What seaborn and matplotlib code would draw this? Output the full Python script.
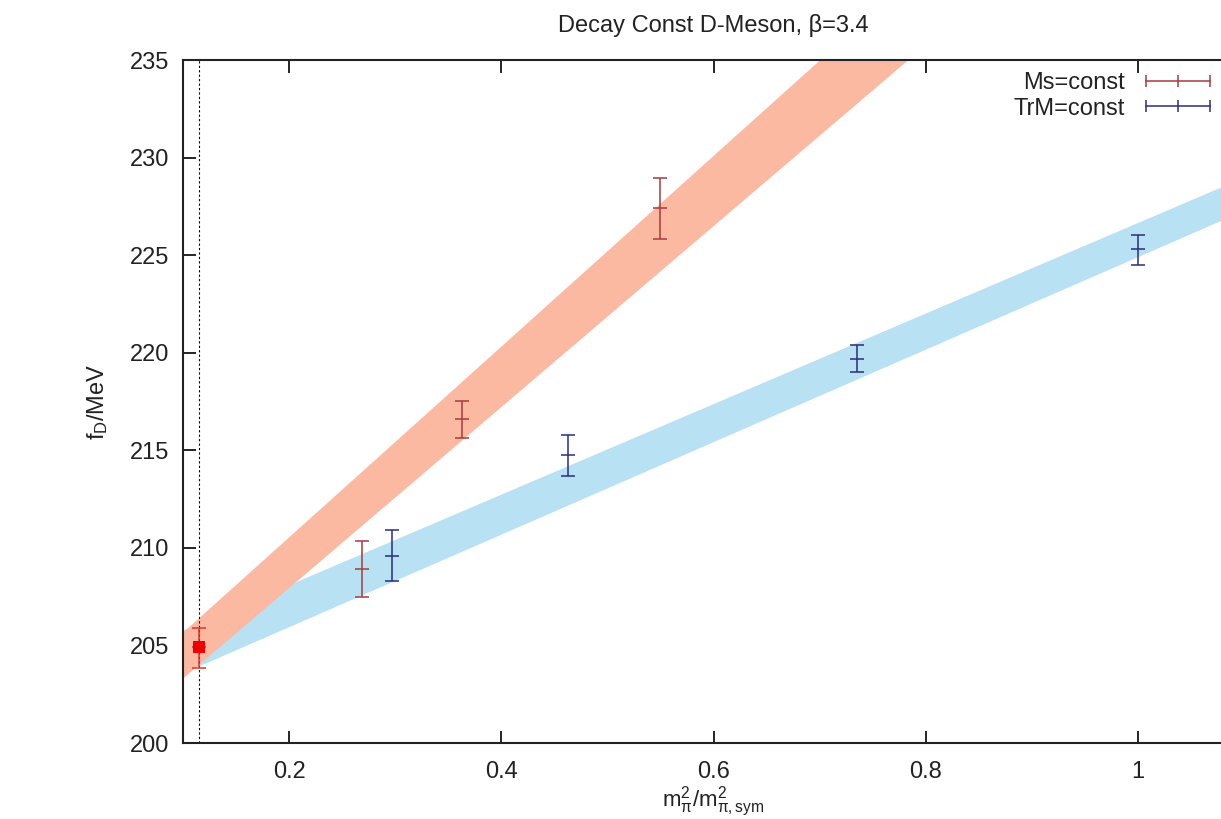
import matplotlib
matplotlib.use("Agg")
import matplotlib.pyplot as plt
import seaborn as sns
import pandas as pd
from matplotlib.lines import Line2D

# ---- data ----
ms_x = [0.269, 0.363, 0.550]
ms_y = [208.9, 216.6, 227.4]
ms_lo = [207.5, 215.65, 225.85]
ms_hi = [210.35, 217.55, 228.95]

tr_x = [0.297, 0.463, 0.735, 1.000]
tr_y = [209.6, 214.75, 219.7, 225.3]
tr_lo = [208.3, 213.7, 219.0, 224.5]
tr_hi = [210.9, 215.8, 220.4, 226.05]

phys_x = [0.1148]
phys_y = [204.9]
phys_lo = [203.85]
phys_hi = [205.9]

# fit bands (edges at nodes)
ms_band_x = [0.1, 0.8]
ms_band_hi = [205.7, 239.9]
ms_band_lo = [203.35, 235.8]

tr_band_x = [0.1, 1.1]
tr_band_hi = [205.8, 229.0]
tr_band_lo = [203.6, 227.3]

xticks = [0.2, 0.4, 0.6, 0.8, 1.0]
xticklabels = ["0.2", "0.4", "0.6", "0.8", "1"]
yticks = [200, 205, 210, 215, 220, 225, 230, 235]

RED_BAND = "#fcb9a1"
BLUE_BAND = "#b8e1f3"
RED = "#a83a3e"
BLUE = "#2b2c80"
TXT = "#222222"
FS = 17

sns.set_theme(style="ticks")
plt.rcParams["font.family"] = ["Liberation Sans", "DejaVu Sans"]
plt.rcParams["mathtext.fontset"] = "custom"
plt.rcParams["mathtext.rm"] = "Liberation Sans"
plt.rcParams["mathtext.it"] = "Liberation Sans"
plt.rcParams["mathtext.sf"] = "Liberation Sans"

fig = plt.figure(figsize=(12.21, 8.19), dpi=100)
ax = fig.add_axes([183 / 1221, 1 - 743 / 819, (1244 - 183) / 1221, (743 - 60) / 819])

# bands
ax.fill_between(ms_band_x, ms_band_lo, ms_band_hi, color=RED_BAND, lw=0, zorder=1)
ax.fill_between(tr_band_x, tr_band_lo, tr_band_hi, color=BLUE_BAND, lw=0, zorder=0.9)

# physical point line
ax.axvline(phys_x[0], color="black", lw=0.8, ls=(0, (2, 2)), zorder=2)

def ebar(xs, ys, lo, hi, color):
    yerr = [[y - l for y, l in zip(ys, lo)], [h - y for y, h in zip(ys, hi)]]
    ax.errorbar(xs, ys, yerr=yerr, fmt="_", color=color, ecolor=color,
                elinewidth=1.1, capsize=5, capthick=1.1, markersize=10,
                markeredgewidth=1.1, zorder=3)

ebar(ms_x, ms_y, ms_lo, ms_hi, RED)
ebar(tr_x, tr_y, tr_lo, tr_hi, BLUE)
ebar(phys_x, phys_y, phys_lo, phys_hi, "#e8302a")

df_phys = pd.DataFrame({"x": phys_x, "y": phys_y})
sns.scatterplot(data=df_phys, x="x", y="y", marker="s", s=85, color="#ee0000",
                edgecolor="#ee0000", linewidth=0, ax=ax, zorder=4)

ax.set_xlim(0.1, 1.1)
ax.set_ylim(200, 235)
ax.set_xticks(xticks)
ax.set_xticklabels(xticklabels)
ax.set_yticks(yticks)
ax.tick_params(axis="x", which="major", pad=13)
ax.tick_params(axis="y", which="major", pad=10)
ax.tick_params(axis="both", which="major", direction="in", length=9, width=1.2,
               labelsize=FS, color="black", labelcolor=TXT,
               top=True, right=True)
for s in ax.spines.values():
    s.set_linewidth(1.5)
    s.set_color(TXT)

ax.set_title("Decay Const D-Meson, β=3.4", fontsize=FS, color=TXT, pad=20)
ax.set_xlabel(r"$\mathregular{m^2_{\pi}/m^2_{\pi,sym}}$", fontsize=16, color=TXT, labelpad=1)
ax.set_ylabel(r"$\mathregular{f_D/MeV}$", fontsize=FS, color=TXT, labelpad=14)

handles = [Line2D([], [], color=RED, lw=1.1, marker="|", markersize=9, markeredgewidth=1.1),
           Line2D([], [], color=BLUE, lw=1.1, marker="|", markersize=9, markeredgewidth=1.1)]
leg = ax.legend(handles, ["Ms=const", "TrM=const"], loc="upper right",
                bbox_to_anchor=(1217 / 1221, 1 - 72 / 819), bbox_transform=fig.transFigure,
                frameon=False, markerfirst=False, numpoints=3, handlelength=3.3,
                handletextpad=0.6, labelspacing=0.15, fontsize=FS, borderpad=0,
                borderaxespad=0)
for t in leg.get_texts():
    t.set_color(TXT)

fig.savefig("out.png", dpi=100)
